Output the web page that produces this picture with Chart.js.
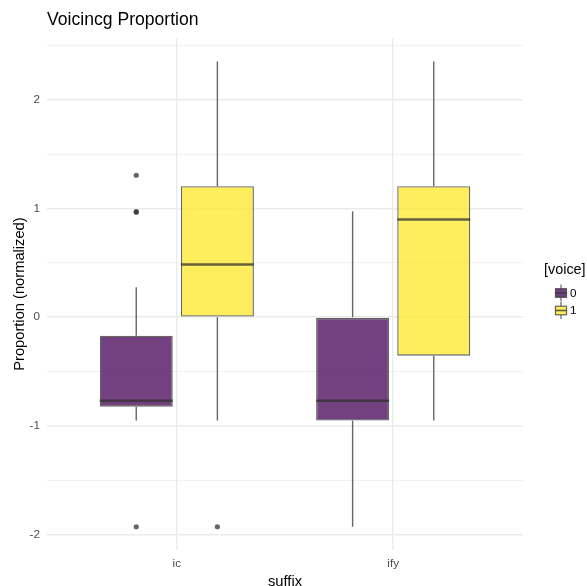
<!DOCTYPE html>
<html>
<head>
<meta charset="utf-8">
<script src="https://cdn.jsdelivr.net/npm/chart.js@4/dist/chart.umd.min.js"></script>
<style>
  html, body { margin: 0; padding: 0; background: #ffffff; }
  canvas { display: block; }
</style>
</head>
<body>
<canvas id="chart" width="587" height="586"></canvas>
<script>
// Categories on the x axis and their positions on the linear scale
const suffixes = ['ic', 'ify'];
const suffixPositions = [1, 2];
const voiceLevels = ['0', '1'];

// voice = 0 : box statistics per suffix
const voice0Lower   = [-0.951, -1.927];
const voice0Q1      = [-0.823, -0.951];
const voice0Median  = [-0.768, -0.768];
const voice0Q3      = [-0.171,  0.000];
const voice0Upper   = [ 0.274,  0.974];
const voice0Outliers = [[1.305, 0.968, 0.968, -1.927], []];

// voice = 1 : box statistics per suffix
const voice1Lower   = [-0.951, -0.951];
const voice1Q1      = [ 0.000, -0.354];
const voice1Median  = [ 0.485,  0.898];
const voice1Q3      = [ 1.204,  1.204];
const voice1Upper   = [ 2.352,  2.352];
const voice1Outliers = [[-1.927], []];

// Gridline / tick positions
const yTickValues = [-2, -1.5, -1, -0.5, 0, 0.5, 1, 1.5, 2, 2.5];

const FONT = '"Liberation Sans", Arial, Helvetica, sans-serif';
const OUTLINE = 'rgba(51,51,51,0.75)';
const GRID = '#EBEBEB';
const AXIS_TEXT = '#4D4D4D';
const FILLS = ['rgba(68,1,84,0.75)', 'rgba(253,231,37,0.75)'];

const series = [
  { level: voiceLevels[0], fill: FILLS[0], lower: voice0Lower, q1: voice0Q1, median: voice0Median, q3: voice0Q3, upper: voice0Upper, outliers: voice0Outliers },
  { level: voiceLevels[1], fill: FILLS[1], lower: voice1Lower, q1: voice1Q1, median: voice1Median, q3: voice1Q3, upper: voice1Upper, outliers: voice1Outliers }
];

// y range: full data span plus 5% on both sides
const allValues = [];
series.forEach(s => {
  allValues.push(...s.lower, ...s.upper);
  s.outliers.forEach(o => allValues.push(...o));
});
const dataMin = Math.min(...allValues);
const dataMax = Math.max(...allValues);
const span = dataMax - dataMin;
const yMin = dataMin - 0.05 * span;
const yMax = dataMax + 0.05 * span;

// x range: 0.6 category widths of padding on each side
const xMin = suffixPositions[0] - 0.6;
const xMax = suffixPositions[suffixPositions.length - 1] + 0.6;

// Whiskers, medians and outliers on top of the floating-bar boxes
const boxDetails = {
  id: 'boxDetails',
  afterDatasetsDraw(chart) {
    const ctx = chart.ctx;
    const yScale = chart.scales.y;
    ctx.save();
    ctx.strokeStyle = OUTLINE;
    ctx.fillStyle = OUTLINE;
    ctx.lineCap = 'butt';
    const seg = (x1, y1, x2, y2, w) => {
      ctx.lineWidth = w;
      ctx.beginPath();
      ctx.moveTo(x1, y1);
      ctx.lineTo(x2, y2);
      ctx.stroke();
    };
    series.forEach((s, i) => {
      const meta = chart.getDatasetMeta(i);
      meta.data.forEach((bar, j) => {
        const x = bar.x;
        const half = bar.width / 2;
        seg(x, yScale.getPixelForValue(s.q3[j]), x, yScale.getPixelForValue(s.upper[j]), 1.4);
        seg(x, yScale.getPixelForValue(s.q1[j]), x, yScale.getPixelForValue(s.lower[j]), 1.4);
        const ym = yScale.getPixelForValue(s.median[j]);
        seg(x - half, ym, x + half, ym, 2.6);
        s.outliers[j].forEach(v => {
          ctx.beginPath();
          ctx.arc(x, yScale.getPixelForValue(v), 2.6, 0, Math.PI * 2);
          ctx.fill();
        });
      });
    });
    ctx.restore();
  }
};

// Legend with box-and-whisker keys
const boxLegend = {
  id: 'boxLegend',
  afterDraw(chart) {
    const ctx = chart.ctx;
    ctx.save();
    ctx.textBaseline = 'middle';
    ctx.textAlign = 'left';
    ctx.fillStyle = '#000000';
    ctx.font = '14.4px ' + FONT;
    ctx.fillText('[voice]', 544, 270);
    ctx.font = '11.7px ' + FONT;
    series.forEach((s, i) => {
      const cx = 561;
      const cy = 293 + i * 17.5;
      ctx.strokeStyle = OUTLINE;
      ctx.lineWidth = 1.2;
      ctx.beginPath();
      ctx.moveTo(cx, cy - 8.5); ctx.lineTo(cx, cy - 4.3);
      ctx.moveTo(cx, cy + 4.3); ctx.lineTo(cx, cy + 8.5);
      ctx.stroke();
      ctx.fillStyle = s.fill;
      ctx.fillRect(cx - 5.5, cy - 4.3, 11, 8.6);
      ctx.strokeRect(cx - 5.5, cy - 4.3, 11, 8.6);
      ctx.lineWidth = 1.6;
      ctx.beginPath();
      ctx.moveTo(cx - 5.5, cy); ctx.lineTo(cx + 5.5, cy);
      ctx.stroke();
      ctx.fillStyle = '#000000';
      ctx.fillText(s.level, 570, cy + 0.5);
    });
    ctx.restore();
  }
};

const datasets = series.map(s => ({
  label: s.level,
  data: suffixPositions.map((x, j) => ({ x: x, y: [s.q1[j], s.q3[j]] })),
  backgroundColor: s.fill,
  borderColor: OUTLINE,
  borderWidth: 1.3,
  borderSkipped: false,
  categoryPercentage: 0.75,
  barPercentage: 0.9
}));

new Chart(document.getElementById('chart'), {
  type: 'bar',
  data: { datasets: datasets },
  plugins: [boxDetails, boxLegend],
  options: {
    responsive: false,
    animation: false,
    layout: { padding: { left: 0, right: 64, top: 0, bottom: 0 } },
    plugins: {
      legend: { display: false },
      tooltip: { enabled: false },
      title: {
        display: true,
        text: 'Voicincg Proportion',
        align: 'start',
        fullSize: false,
        color: '#000000',
        font: { family: FONT, size: 17.6, weight: 'normal' },
        padding: { top: 10, bottom: 7 }
      }
    },
    scales: {
      x: {
        type: 'linear',
        min: xMin,
        max: xMax,
        offset: false,
        afterBuildTicks: scale => { scale.ticks = suffixPositions.map(v => ({ value: v })); },
        afterFit: scale => { scale.height = 36; },
        ticks: {
          color: AXIS_TEXT,
          font: { family: FONT, size: 11.7 },
          padding: 7,
          callback: v => suffixes[suffixPositions.indexOf(v)]
        },
        grid: { color: GRID, lineWidth: 1.4, drawTicks: false, offset: false },
        border: { display: false },
        title: {
          display: true,
          text: 'suffix',
          color: '#000000',
          font: { family: FONT, size: 14.7, lineHeight: 0.6 },
          padding: { top: 0, bottom: 0 }
        }
      },
      y: {
        type: 'linear',
        min: yMin,
        max: yMax,
        afterBuildTicks: scale => { scale.ticks = yTickValues.map(v => ({ value: v })); },
        afterFit: scale => { scale.width = 47; },
        ticks: {
          color: AXIS_TEXT,
          font: { family: FONT, size: 11.7 },
          padding: 7,
          callback: v => (Number.isInteger(v) ? String(v) : '')
        },
        grid: {
          color: GRID,
          lineWidth: ctx => (ctx.tick && Number.isInteger(ctx.tick.value) ? 1.4 : 0.7),
          drawTicks: false
        },
        border: { display: false },
        title: {
          display: true,
          text: 'Proportion (normalized)',
          color: '#000000',
          font: { family: FONT, size: 14.7 },
          padding: { top: 11, bottom: 0 }
        }
      }
    }
  }
});
</script>
</body>
</html>
